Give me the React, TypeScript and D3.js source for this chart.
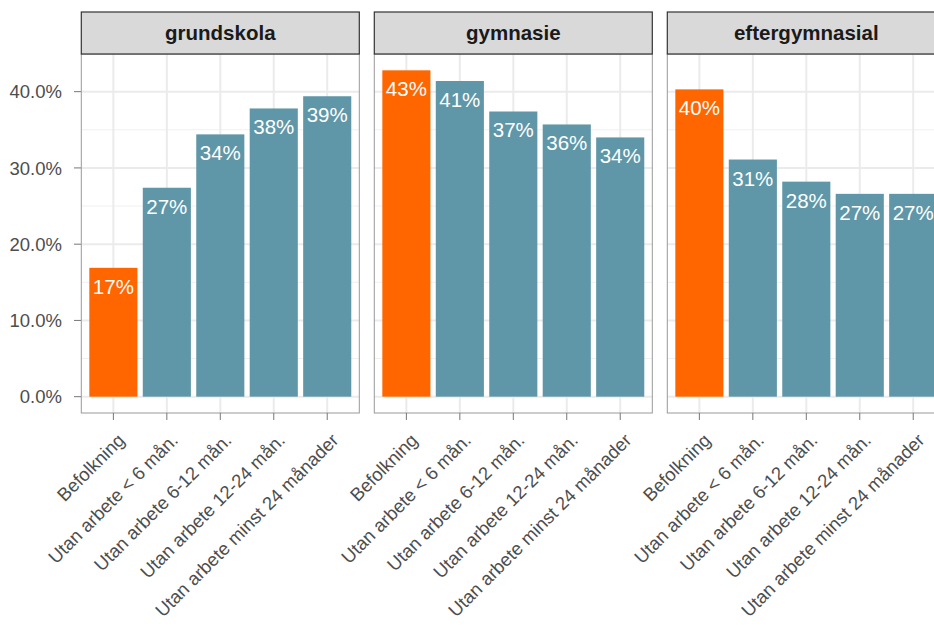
import React from "react";
import * as d3 from "d3";

const facets = ["grundskola", "gymnasie", "eftergymnasial"];
const categories = [
  "Befolkning",
  "Utan arbete < 6 mån.",
  "Utan arbete 6-12 mån.",
  "Utan arbete 12-24 mån.",
  "Utan arbete minst 24 månader",
];
const grundskolaValues = [16.9, 27.4, 34.4, 37.8, 39.4];
const gymnasieValues = [42.8, 41.4, 37.4, 35.7, 34.0];
const eftergymnasialValues = [40.3, 31.1, 28.2, 26.6, 26.6];
const seriesValues = [grundskolaValues, gymnasieValues, eftergymnasialValues];
const yTicks = [0, 10, 20, 30, 40];
const yMinorTicks = [5, 15, 25, 35];

const W = 934;
const H = 628;
const FONT = "'Liberation Sans', Arial, Helvetica, sans-serif";
const ORANGE = "#FF6600";
const TEAL = "#5F97A8";

export default function App() {
  const panelLeft0 = 81.3;
  const panelW = 278;
  const gap = 15;
  const stripTop = 12;
  const stripBottom = 54;
  const panelBottom = 413;

  const allVals = seriesValues.flat();
  const maxV = d3.max(allVals) as number;
  const expand = maxV * 0.05;
  const y = d3.scaleLinear().domain([-expand, maxV + expand]).range([panelBottom, stripBottom]);

  const panels = facets.map((f, fi) => {
    const left = panelLeft0 + fi * (panelW + gap);
    const x = d3.scaleLinear().domain([0.4, categories.length + 0.6]).range([left, left + panelW]);
    return { f, fi, left, x, vals: seriesValues[fi] };
  });

  return (
    <svg width={W} height={H} style={{ display: "block", position: "absolute", left: 0, top: 0 }} fontFamily={FONT}>
      <rect x={0} y={0} width={W} height={H} fill="#fff" />
      {yTicks.map((t) => (
        <g key={"yt" + t}>
          <text x={62} y={y(t)} dy="0.36em" textAnchor="end" fontSize={18.5} fill="#4D4D4D">
            {d3.format(".1f")(t) + "%"}
          </text>
          <line x1={74} x2={panelLeft0} y1={y(t)} y2={y(t)} stroke="#777" strokeWidth={1} />
        </g>
      ))}
      {panels.map(({ f, fi, left, x, vals }) => (
        <g key={f}>
          {yMinorTicks.map((t) => (
            <line key={"mn" + t} x1={left} x2={left + panelW} y1={y(t)} y2={y(t)} stroke="#F0F0F0" strokeWidth={1} />
          ))}
          {yTicks.map((t) => (
            <line key={"mj" + t} x1={left} x2={left + panelW} y1={y(t)} y2={y(t)} stroke="#EBEBEB" strokeWidth={2} />
          ))}
          {categories.map((c, i) => (
            <line key={"vg" + i} x1={x(i + 1)} x2={x(i + 1)} y1={stripBottom} y2={panelBottom} stroke="#EBEBEB" strokeWidth={2} />
          ))}
          {vals.map((v, i) => (
            <rect
              key={"b" + i}
              x={x(i + 1 - 0.45)}
              width={x(i + 1 + 0.45) - x(i + 1 - 0.45)}
              y={y(v)}
              height={y(0) - y(v)}
              fill={i === 0 ? ORANGE : TEAL}
            />
          ))}
          {vals.map((v, i) => (
            <text key={"l" + i} x={x(i + 1)} y={y(v) + 26} textAnchor="middle" fontSize={20.5} fill="#fff">
              {Math.round(v) + "%"}
            </text>
          ))}
          <rect x={left} y={stripBottom} width={panelW} height={panelBottom - stripBottom} fill="none" stroke="#999999" strokeWidth={1} />
          <rect x={left} y={stripTop} width={panelW} height={stripBottom - stripTop} fill="#D9D9D9" stroke="#333333" strokeWidth={1.2} />
          <text x={left + panelW / 2} y={(stripTop + stripBottom) / 2} dy="0.33em" textAnchor="middle" fontSize={20.5} fontWeight="bold" fill="#1A1A1A">
            {f}
          </text>
          {categories.map((c, i) => (
            <g key={"xt" + i}>
              <line x1={x(i + 1)} x2={x(i + 1)} y1={panelBottom} y2={panelBottom + 7} stroke="#777" strokeWidth={1} />
              <text
                transform={`translate(${x(i + 1) + 3},${panelBottom + 19}) rotate(-45)`}
                textAnchor="end"
                dy="0.72em"
                fontSize={18.5}
                fill="#4D4D4D"
              >
                {c}
              </text>
            </g>
          ))}
        </g>
      ))}
    </svg>
  );
}
